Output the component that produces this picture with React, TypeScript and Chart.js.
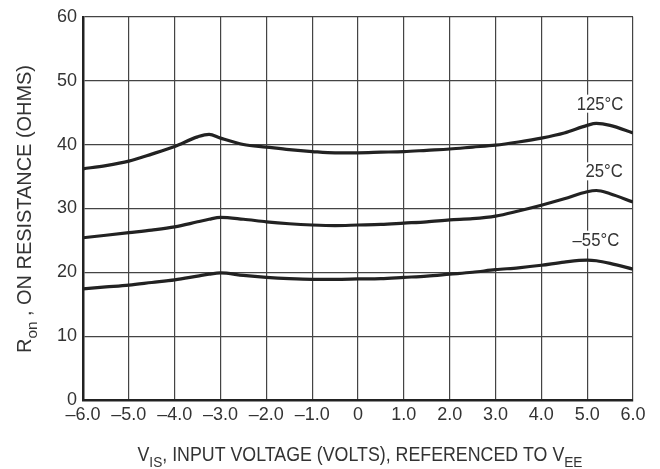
import React, { useEffect, useRef } from "react";
import { Chart, registerables } from "chart.js";

Chart.register(...registerables);

const xValues = [-6, -5.5, -5, -4.5, -4, -3.5, -3.25, -3, -2.5, -2, -1.5, -1, -0.5, 0, 0.5, 1, 1.5, 2, 2.5, 3, 3.5, 4, 4.5, 5, 5.2, 5.5, 6];
const r125 = [36.2, 36.7, 37.4, 38.5, 39.7, 41.2, 41.6, 41.0, 40.0, 39.6, 39.2, 38.9, 38.7, 38.7, 38.8, 38.9, 39.1, 39.3, 39.6, 39.9, 40.4, 41.0, 41.8, 43.0, 43.3, 43.0, 41.8];
const r25 = [25.4, 25.8, 26.2, 26.6, 27.1, 27.9, 28.3, 28.6, 28.3, 27.9, 27.6, 27.4, 27.3, 27.4, 27.5, 27.7, 27.9, 28.2, 28.4, 28.8, 29.6, 30.5, 31.5, 32.6, 32.8, 32.3, 31.0];
const rm55 = [17.4, 17.7, 18.0, 18.4, 18.8, 19.4, 19.7, 19.9, 19.5, 19.2, 19.0, 18.9, 18.9, 18.95, 19.0, 19.2, 19.4, 19.7, 20.0, 20.4, 20.7, 21.1, 21.6, 21.9, 21.8, 21.4, 20.5];
const seriesLabels = ["125°C", "25°C", "\u201355°C"];
const labelPos = [
  { x: 5.28, y: 46.4 },
  { x: 5.37, y: 35.8 },
  { x: 5.19, y: 25.1 },
];

const FONT = "'Liberation Sans', Arial, sans-serif";
const TEXT = "#333";

function drawRich(ctx: CanvasRenderingContext2D, parts: { t: string; sub?: boolean }[], size: number, subSize: number, targetWidth: number) {
  const widths = parts.map((p) => {
    ctx.font = `${p.sub ? subSize : size}px ${FONT}`;
    return ctx.measureText(p.t).width;
  });
  const total = widths.reduce((a, b) => a + b, 0);
  const sx = targetWidth / total;
  ctx.save();
  ctx.scale(sx, 1);
  let x = -total / 2;
  parts.forEach((p, i) => {
    ctx.font = `${p.sub ? subSize : size}px ${FONT}`;
    ctx.fillText(p.t, x, p.sub ? size * 0.3 : 0);
    x += widths[i];
  });
  ctx.restore();
}

const annotPlugin = {
  id: "annot",
  afterDraw(chart: any) {
    const ctx = chart.ctx as CanvasRenderingContext2D;
    const xs = chart.scales.x;
    const ys = chart.scales.y;
    ctx.save();
    ctx.fillStyle = TEXT;
    ctx.textBaseline = "alphabetic";
    ctx.textAlign = "left";
    // x title
    ctx.save();
    ctx.translate(360, 461);
    drawRich(ctx, [
      { t: "V" },
      { t: "IS", sub: true },
      { t: ", INPUT VOLTAGE (VOLTS), REFERENCED TO V" },
      { t: "EE", sub: true },
    ], 19.5, 15, 445);
    ctx.restore();
    // y title
    ctx.save();
    ctx.translate(31, 209);
    ctx.rotate(-Math.PI / 2);
    drawRich(ctx, [
      { t: "R" },
      { t: "on", sub: true },
      { t: " , ON RESISTANCE (OHMS)" },
    ], 19.5, 15, 288);
    ctx.restore();
    // series labels
    ctx.font = `18px ${FONT}`;
    ctx.textAlign = "center";
    ctx.textBaseline = "middle";
    seriesLabels.forEach((s, i) => {
      const px = xs.getPixelForValue(labelPos[i].x);
      const py = ys.getPixelForValue(labelPos[i].y);
      const w = ctx.measureText(s).width;
      ctx.fillStyle = "#fff";
      ctx.fillRect(px - w / 2 - 2, py - 9, w + 4, 18);
      ctx.save();
      ctx.translate(px, py + 1);
      ctx.scale(0.93, 1);
      ctx.fillStyle = TEXT;
      ctx.fillText(s, 0, 0);
      ctx.restore();
    });
    ctx.restore();
  },
};

export default function App() {
  const ref = useRef<HTMLCanvasElement>(null);
  useEffect(() => {
    if (!ref.current) return;
    const mk = (vals: number[]) => xValues.map((x, i) => ({ x, y: vals[i] }));
    const ds = (vals: number[]) => ({
      data: mk(vals),
      borderColor: "#222",
      borderWidth: 3.2,
      pointRadius: 0,
      cubicInterpolationMode: "monotone" as const,
      fill: false,
    });
    const chart = new Chart(ref.current, {
      type: "line",
      data: { datasets: [ds(r125), ds(r25), ds(rm55)] },
      options: {
        responsive: false,
        animation: false,
        layout: { padding: { left: 0, right: 27, top: 15, bottom: 0 } },
        plugins: { legend: { display: false }, tooltip: { enabled: false } },
        scales: {
          x: {
            type: "linear",
            min: -6,
            max: 6,
            afterFit: (s: any) => { s.height = 69; },
            ticks: {
              stepSize: 1,
              padding: 4,
              color: TEXT,
              font: { family: FONT, size: 18 },
              maxRotation: 0,
              autoSkip: false,
              callback: (v: any) => (v === 0 ? "0" : (v < 0 ? "\u2013" : "") + Math.abs(v).toFixed(1)),
            },
            grid: { color: "#444", lineWidth: 1.2, drawTicks: false },
            border: { color: "#222", width: 2.5 },
          },
          y: {
            min: 0,
            max: 60,
            afterFit: (s: any) => { s.width = 83; },
            ticks: {
              stepSize: 10,
              padding: 6,
              color: TEXT,
              font: { family: FONT, size: 18 },
            },
            grid: { color: "#444", lineWidth: 1.2, drawTicks: false },
            border: { color: "#222", width: 2.5 },
          },
        },
      },
      plugins: [annotPlugin],
    });
    return () => chart.destroy();
  }, []);
  return (
    <div style={{ position: "fixed", left: 0, top: 0, width: 660, height: 469, background: "#fff" }}>
      <canvas ref={ref} width={660} height={469} />
    </div>
  );
}
